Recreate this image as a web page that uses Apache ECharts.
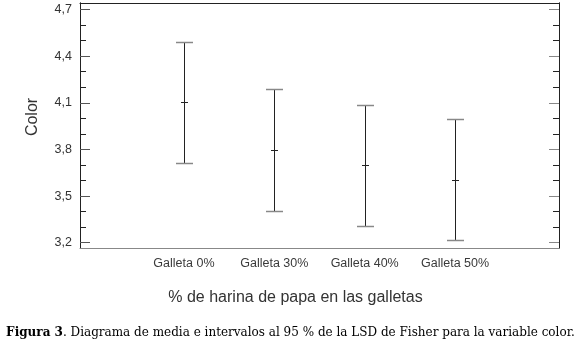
<!DOCTYPE html>
<html>
<head>
<meta charset="utf-8">
<script src="https://cdn.jsdelivr.net/npm/echarts@6/dist/echarts.min.js"></script>
<style>html,body{margin:0;padding:0;background:#fff}#c{width:580px;height:347px}</style>
</head>
<body>
<div id="c"></div>
<script>
const categories = ['Galleta 0%', 'Galleta 30%', 'Galleta 40%', 'Galleta 50%'];
const means = [4.105, 3.795, 3.699, 3.602];
const lower = [3.712, 3.406, 3.307, 3.217];
const upper = [4.494, 4.189, 4.089, 3.997];
const yMajorTicks = [3.2, 3.5, 3.8, 4.1, 4.4, 4.7];
const yMinorTicks = [3.3, 3.4, 3.6, 3.7, 3.9, 4.0, 4.2, 4.3, 4.5, 4.6];
const yTitle = 'Color';
const xTitle = '% de harina de papa en las galletas';
const captionBold = 'Figura 3';
const captionText = '. Diagrama de media e intervalos al 95 % de la LSD de Fisher para la variable color.';

const Y_MIN = 3.166, Y_MAX = 4.742;
const X_MIN = -1.15, X_MAX = 4.15;
const seriesData = categories.map((c, i) => [i, lower[i], means[i], upper[i]]);
const fmt = v => Number(v).toFixed(1).replace('.', ',');
const font = 'Liberation Sans, Arial, sans-serif';

function yAxisDef(pos, ticks, len, color, labels) {
  return {
    type: 'value', position: pos, min: Y_MIN, max: Y_MAX,
    splitLine: { show: false },
    axisLine: { show: true, onZero: false, lineStyle: { color: '#222', width: 1 } },
    axisTick: { show: true, inside: true, length: len, customValues: ticks, lineStyle: { color: color, width: 1 } },
    axisLabel: labels ? { show: true, customValues: ticks, formatter: fmt, margin: 8, color: '#333', fontSize: 12.5, fontFamily: font } : { show: false }
  };
}

const chart = echarts.init(document.getElementById('c'), null, { renderer: 'canvas' });
chart.setOption({
  animation: false,
  backgroundColor: '#fff',
  grid: { left: 80, top: 3, right: 21, bottom: 99, show: false },
  xAxis: [{
    type: 'value', min: X_MIN, max: X_MAX, position: 'bottom',
    splitLine: { show: false },
    axisLine: { show: true, onZero: false, lineStyle: { color: '#888', width: 1 } },
    axisTick: { show: false },
    axisLabel: { show: true, customValues: [0, 1, 2, 3], formatter: v => categories[Math.round(v)] || '', margin: 9, color: '#3a3a3a', fontSize: 12.5, fontFamily: font }
  }, {
    type: 'value', min: X_MIN, max: X_MAX, position: 'top',
    splitLine: { show: false },
    axisLine: { show: true, onZero: false, lineStyle: { color: '#222', width: 1 } },
    axisTick: { show: false },
    axisLabel: { show: false }
  }],
  yAxis: [
    yAxisDef('left', yMajorTicks, 10, '#555', true),
    yAxisDef('left', yMinorTicks, 6, '#222', false),
    yAxisDef('right', yMajorTicks, 10, '#888', false),
    yAxisDef('right', yMinorTicks, 6, '#222', false)
  ],
  series: [{
    type: 'custom',
    data: seriesData,
    encode: { x: 0, y: [1, 2, 3] },
    renderItem: function (params, api) {
      const i = api.value(0);
      const lo = api.coord([i, api.value(1)]);
      const me = api.coord([i, api.value(2)]);
      const hi = api.coord([i, api.value(3)]);
      const x = Math.round(lo[0]) + 0.5;
      const yl = Math.round(lo[1]) + 0.5, ym = Math.round(me[1]) + 0.5, yh = Math.round(hi[1]) + 0.5;
      const cap = 8.5, mt = 3.5;
      return {
        type: 'group',
        children: [
          { type: 'line', shape: { x1: x, y1: yh, x2: x, y2: yl }, style: { stroke: '#222', lineWidth: 1 } },
          { type: 'line', shape: { x1: x - cap, y1: yh, x2: x + cap, y2: yh }, style: { stroke: '#888', lineWidth: 1.5 } },
          { type: 'line', shape: { x1: x - cap, y1: yl, x2: x + cap, y2: yl }, style: { stroke: '#888', lineWidth: 1.5 } },
          { type: 'line', shape: { x1: x - mt, y1: ym, x2: x + mt, y2: ym }, style: { stroke: '#222', lineWidth: 1 } }
        ]
      };
    }
  }],
  graphic: [
    { type: 'text', x: 33, y: 117, rotation: Math.PI / 2,
      style: { text: yTitle, fill: '#333', font: '16px ' + font, align: 'center', verticalAlign: 'middle' } },
    { type: 'text', x: 295.5, y: 298,
      style: { text: xTitle, fill: '#333', font: '16px ' + font, align: 'center', verticalAlign: 'middle' } },
    { type: 'text', x: 290.5, y: 333,
      style: {
        text: '{b|' + captionBold + '}{n|' + captionText + '}',
        align: 'center', verticalAlign: 'middle',
        rich: {
          b: { fontFamily: 'DejaVu Serif', fontSize: 12, fontWeight: 'bold', fill: '#000' },
          n: { fontFamily: 'DejaVu Serif', fontSize: 12, fill: '#000' }
        }
      } }
  ]
});
</script>
</body>
</html>
